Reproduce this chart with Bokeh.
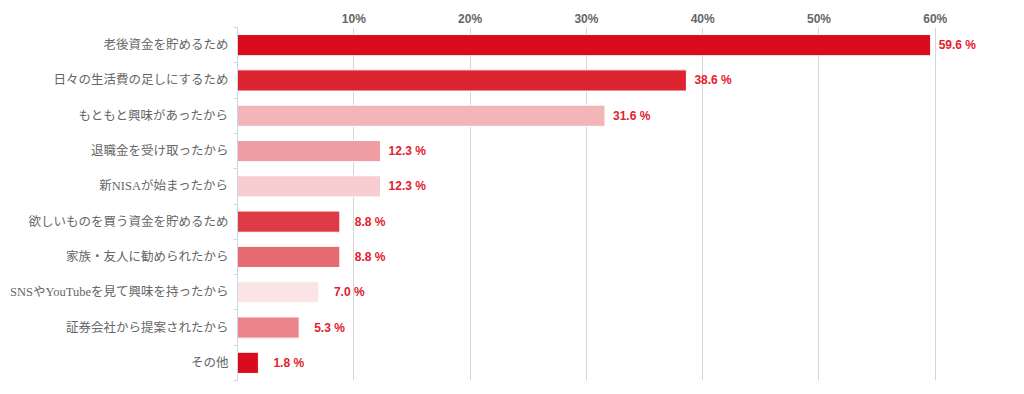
from bokeh.plotting import figure
from bokeh.models import ColumnDataSource, Range1d, FixedTicker
from bokeh.core.properties import value
from bokeh.embed import file_html
from bokeh.resources import INLINE

categories = [
    "老後資金を貯めるため",
    "日々の生活費の足しにするため",
    "もともと興味があったから",
    "退職金を受け取ったから",
    "新NISAが始まったから",
    "欲しいものを買う資金を貯めるため",
    "家族・友人に勧められたから",
    "SNSやYouTubeを見て興味を持ったから",
    "証券会社から提案されたから",
    "その他",
]
values = [59.6, 38.6, 31.6, 12.3, 12.3, 8.8, 8.8, 7.0, 5.3, 1.8]
colors = [
    "#d90b1c", "#dc2531", "#f2b5b8", "#ef9da3", "#f7cdd1",
    "#df3b47", "#e76b73", "#fbe4e6", "#ec858b", "#d90b1c",
]
x_ticks = [10, 20, 30, 40, 50, 60]

ypos = list(range(len(categories)))
labels = [f"{v:.1f} %" for v in values]
offsets = [15 if v < 10 else 8 for v in values]

src = ColumnDataSource(dict(y=ypos, v=values, c=colors, lab=labels, off=offsets))

p = figure(
    width=1008, height=388,
    output_backend="svg", toolbar_location=None,
    x_range=Range1d(0, 65.78), y_range=Range1d(len(categories) - 0.5, -0.5),
    x_axis_location="above",
    min_border_left=237, min_border_right=6, min_border_top=27, min_border_bottom=8,
)
p.outline_line_color = None
p.background_fill_color = "white"

p.hbar(y="y", right="v", left=0, height=0.6, fill_color="c", line_color="white",
       line_width=1, source=src)

p.text(x="v", y="y", text="lab", x_offset="off", source=src,
       text_font=value("Liberation Sans"), text_font_style="bold",
       text_font_size="12px", text_color="#e3202c",
       text_baseline="middle", text_align="left")

# x axis (top)
xa = p.xaxis[0]
xa.ticker = FixedTicker(ticks=x_ticks)
xa.major_label_overrides = {t: f"{t}%" for t in x_ticks}
xa.axis_line_color = None
xa.major_tick_line_color = None
xa.minor_tick_line_color = None
xa.major_label_text_font = "Liberation Sans"
xa.major_label_text_font_style = "bold"
xa.major_label_text_font_size = "12px"
xa.major_label_text_color = "#666666"
xa.major_label_standoff = -4

p.xgrid.ticker = FixedTicker(ticks=x_ticks)
p.xgrid.grid_line_color = "#d6d6d6"
p.ygrid.visible = False

# y axis
ya = p.yaxis[0]
ya.ticker = FixedTicker(ticks=ypos, minor_ticks=[i - 0.5 for i in range(len(categories) + 1)])
ya.major_label_overrides = {i: c for i, c in enumerate(categories)}
ya.axis_line_color = "#ccd6eb"
ya.major_tick_line_color = None
ya.minor_tick_line_color = "#ccd6eb"
ya.minor_tick_out = 4
ya.minor_tick_in = 0
ya.major_label_text_font = "'Liberation Serif', 'Noto Sans CJK JP'"
ya.major_label_text_font_size = "12.5px"
ya.major_label_text_color = "#666666"
ya.major_label_standoff = 3

open("out.html", "w").write(file_html(p, INLINE))
